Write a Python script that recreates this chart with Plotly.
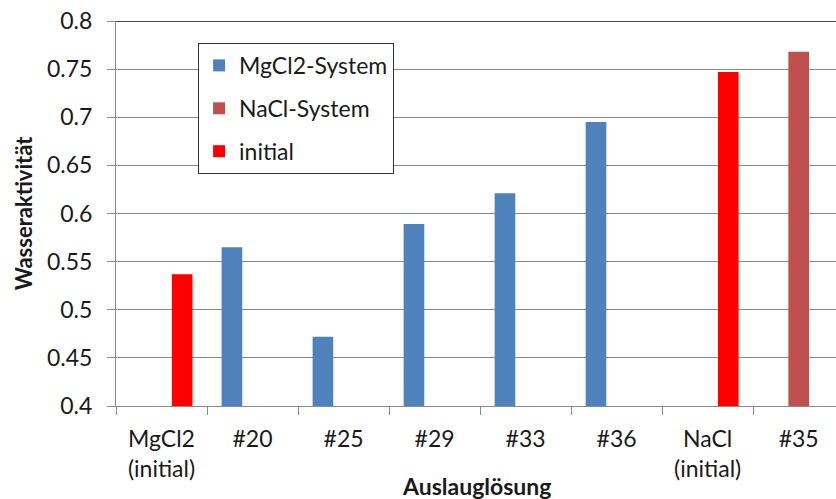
import plotly.graph_objects as go

categories = ["MgCl2<br>(initial)", "#20", "#25", "#29", "#33", "#36", "NaCl<br>(initial)", "#35"]
mgcl2_system = [None, 0.565, 0.472, 0.589, 0.621, 0.695, None, None]
nacl_system = [None, None, None, None, None, None, None, 0.768]
initial = [0.537, None, None, None, None, None, 0.747, None]
y_ticks = [0.4, 0.45, 0.5, 0.55, 0.6, 0.65, 0.7, 0.75, 0.8]

FONT = "Lato, Carlito, 'Liberation Sans', sans-serif"
GRID = "#8a8a8a"

fig = go.Figure()
fig.add_trace(go.Bar(name="MgCl2-System", x=categories, y=mgcl2_system,
                     marker=dict(color="#4F81BD", line=dict(width=0)), legendgroup="a"))
fig.add_trace(go.Bar(name="NaCl-System", x=categories, y=nacl_system,
                     marker=dict(color="#C0504D", line=dict(width=0)), legendgroup="b"))
fig.add_trace(go.Bar(name="initial", x=categories, y=initial,
                     marker=dict(color="#FF0000", line=dict(width=0)), legendgroup="c"))

fig.update_layout(
    width=836, height=499,
    margin=dict(l=116, r=0, t=21, b=93, autoexpand=False),
    paper_bgcolor="white", plot_bgcolor="white",
    barmode="group", bargap=0.32, bargroupgap=0,
    font=dict(family=FONT, size=23, color="#1a1a1a"),
    legend=dict(x=0.114, y=0.943, xanchor="left", yanchor="top",
                bgcolor="white", bordercolor="#333333", borderwidth=1,
                font=dict(size=23), tracegroupgap=10,
                itemwidth=30),
    showlegend=True,
    xaxis=dict(type="category", range=[-0.5, 7.41], automargin=False,
               tickson="boundaries", ticks="outside", ticklen=8, tickcolor=GRID,
               showline=True, linecolor=GRID, linewidth=1,
               showgrid=False,
               ticklabelstandoff=12,
               tickfont=dict(size=23)),
    yaxis=dict(range=[0.4, 0.8], tickvals=y_ticks, ticktext=[f"{v:g}" for v in y_ticks],
               automargin=False,
               ticks="outside", ticklen=8, tickcolor=GRID,
               showline=True, linecolor=GRID, linewidth=1,
               showgrid=True, gridcolor=GRID, gridwidth=1,
               zeroline=False,
               ticklabelstandoff=10,
               title=dict(text="<b>Wasseraktivität</b>", font=dict(size=22), standoff=8),
               tickfont=dict(size=23)),
)
fig.add_annotation(text="<b>Auslauglösung</b>", xref="paper", yref="paper",
                   x=0.5, y=-0.2087, xanchor="center", yanchor="middle",
                   showarrow=False, font=dict(size=23))
fig.add_shape(type="line", xref="paper", yref="y", x0=0, x1=1, y0=0.8, y1=0.8,
              line=dict(color="#4a4a4a", width=2))

fig.write_html("out.html", config={"displayModeBar": False},
               post_script="document.body.style.margin='0';document.body.style.overflow='hidden';")
